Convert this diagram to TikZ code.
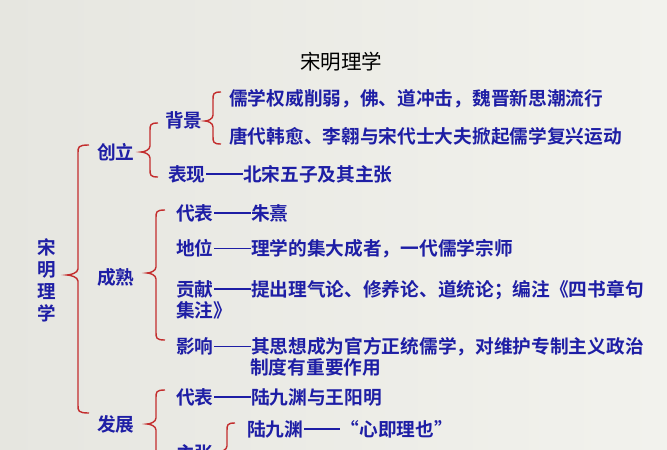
\documentclass[tikz,border=0pt]{standalone}
\usepackage{fontspec}
\newfontfamily\cjk{Noto Sans CJK SC}
\newfontfamily\cjkb{Noto Sans CJK SC Bold}
\definecolor{bgc}{RGB}{242,242,237}
\definecolor{bgd}{RGB}{230,230,224}
\definecolor{txtblue}{RGB}{30,30,165}
\definecolor{bred}{RGB}{195,45,45}
\newcommand\dd{\makebox[2em]{\rule[0.34em]{1.95em}{0.1em}}}
\newcommand\mybrace[6]{%
  \draw[bracestyle] (#3,#4) .. controls (#2,#4) and (#2,#4+2) .. (#2,#4+8)
    -- (#2,#5-6) .. controls (#2,#5-2) and (#1+3,#5) .. (#1,#5)
    .. controls (#1+3,#5) and (#2,#5+2) .. (#2,#5+6)
    -- (#2,#6-8) .. controls (#2,#6-2) and (#2,#6) .. (#3,#6);}
\begin{document}
\begin{tikzpicture}[x=1pt,y=-1pt,
  bracestyle/.style={draw=bred,line width=1.4pt},
  lbl/.style={anchor=west,inner sep=0pt,text=txtblue,font=\cjkb\fontsize{18.7}{22}\selectfont},
  ttl/.style={inner sep=0pt,text=black,font=\cjk\fontsize{20.5}{24}\selectfont}]
\useasboundingbox (0,0) rectangle (667,450);
\shade[left color=bgd,right color=bgc] (0,0) rectangle (667,450);
% title
\node[ttl] (title) at (341,62) {宋明理学};
% root
\node[lbl,anchor=center,align=center,font=\cjkb\fontsize{18.5}{22}\selectfont] (root) at (47,280) {宋\\明\\理\\学};
% level 1
\node[lbl] (chuangli) at (97,152) {创立};
\node[lbl] (chengshu) at (97,277) {成熟};
\node[lbl] (fazhan) at (97,424) {发展};
% chuangli
\node[lbl] (beijing) at (165,120) {背景};
\node[lbl] (bj1) at (229,99) {儒学权威削弱，佛、道冲击，魏晋新思潮流行};
\node[lbl] (bj2) at (229,136) {唐代韩愈、李翱与宋代士大夫掀起儒学复兴运动};
\node[lbl] (biaoxian) at (168,174) {表现\dd 北宋五子及其主张};
% chengshu
\node[lbl] (daibiao1) at (176,213) {代表\dd 朱熹};
\node[lbl] (diwei) at (176,249) {地位\dd 理学的集大成者，一代儒学宗师};
\node[lbl] (gongxian) at (176,290) {贡献\dd 提出理气论、修养论、道统论；编注《四书章句};
\node[lbl] (gongxian2) at (176,310) {集注》};
\node[lbl] (yingxiang) at (176,347) {影响\dd 其思想成为官方正统儒学，对维护专制主义政治};
\node[lbl] (yingxiang2) at (250,367) {制度有重要作用};
% fazhan
\node[lbl] (daibiao2) at (176,397) {代表\dd 陆九渊与王阳明};
\node[lbl] (zhuzhang) at (176,453) {主张};
\node[lbl] (lu) at (247,429) {陆九渊\dd “心即理也”};
% braces
\mybrace{67}{78}{89}{145}{275}{413}
\mybrace{141}{150}{158}{123}{152}{177}
\mybrace{205}{213}{221}{92}{121}{144}
\mybrace{147}{156}{165}{210}{273}{340}
\mybrace{147}{156}{165}{390}{424}{520}
\mybrace{218}{227}{235}{423}{452}{520}
\end{tikzpicture}
\end{document}
